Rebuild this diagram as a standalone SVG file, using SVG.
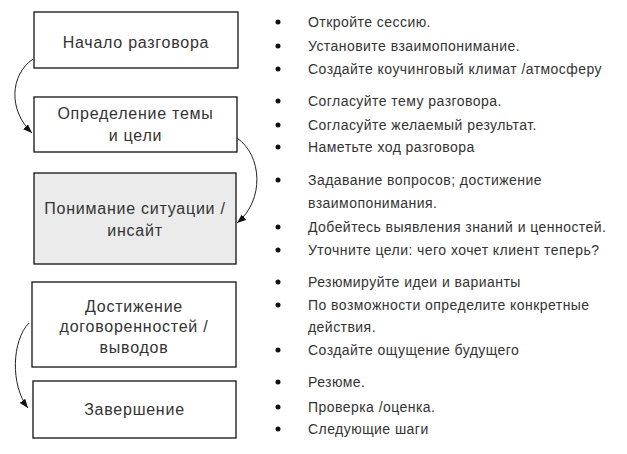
<svg xmlns="http://www.w3.org/2000/svg" width="627" height="454" viewBox="0 0 627 454">
<style>
.box{fill:#fff;stroke:#111;stroke-width:1.3}
.gray{fill:#ebebeb}
.bt{font-family:"Liberation Sans",Arial,sans-serif;font-size:16px;letter-spacing:0.75px;fill:#333;text-anchor:middle}
.li{font-family:"Liberation Sans",Arial,sans-serif;font-size:14px;letter-spacing:0.45px;fill:#333}
.dot{fill:#111}
.conn{fill:none;stroke:#222;stroke-width:1}
</style>
<defs>
<marker id="ah" markerUnits="userSpaceOnUse" markerWidth="10" markerHeight="8" refX="9" refY="3.5" orient="auto">
<path d="M0,0 L9,3.5 L0,7 z" fill="#111"/>
</marker>
</defs>
<rect width="627" height="454" fill="#fff"/>
<g id="node1">
<rect class="box" x="34" y="12" width="204" height="56"/>
<text class="bt" x="136" y="48">Начало разговора</text>
</g>
<g id="node2">
<rect class="box" x="34" y="97" width="203" height="55"/>
<text class="bt" x="135.5" y="119">Определение темы</text>
<text class="bt" x="135.5" y="141">и цели</text>
</g>
<g id="node3">
<rect class="box gray" x="34" y="173" width="202" height="91"/>
<text class="bt" x="135" y="214">Понимание ситуации /</text>
<text class="bt" x="135" y="236">инсайт</text>
</g>
<g id="node4">
<rect class="box" x="32" y="282" width="204" height="85"/>
<text class="bt" x="134" y="312">Достижение</text>
<text class="bt" x="134" y="332">договоренностей /</text>
<text class="bt" x="134" y="353">выводов</text>
</g>
<g id="node5">
<rect class="box" x="33" y="381" width="203" height="57"/>
<text class="bt" x="134.5" y="415">Завершение</text>
</g>
<g id="connectors">
<path class="conn" d="M33,59 C10,75 8,110 32,133" marker-end="url(#ah)"/>
<path class="conn" d="M237,138 C262,155 265,200 237,223" marker-end="url(#ah)"/>
<path class="conn" d="M29,323 C12,340 10,385 28,408" marker-end="url(#ah)"/>
</g>
<g id="list1">
<circle class="dot" cx="278" cy="22" r="2.5"/><text class="li" x="308" y="27">Откройте сессию.</text>
<circle class="dot" cx="278" cy="46" r="2.5"/><text class="li" x="308" y="51">Установите взаимопонимание.</text>
<circle class="dot" cx="278" cy="69" r="2.5"/><text class="li" x="308" y="74">Создайте коучинговый климат /атмосферу</text>
</g>
<g id="list2">
<circle class="dot" cx="278" cy="101" r="2.5"/><text class="li" x="308" y="106">Согласуйте тему разговора.</text>
<circle class="dot" cx="278" cy="125" r="2.5"/><text class="li" x="308" y="130">Согласуйте желаемый результат.</text>
<circle class="dot" cx="278" cy="147" r="2.5"/><text class="li" x="308" y="152">Наметьте ход разговора</text>
</g>
<g id="list3">
<circle class="dot" cx="278" cy="180" r="2.5"/><text class="li" x="308" y="185">Задавание вопросов; достижение</text>
<text class="li" x="308" y="208">взаимопонимания.</text>
<circle class="dot" cx="278" cy="227" r="2.5"/><text class="li" x="308" y="232">Добейтесь выявления знаний и ценностей.</text>
<circle class="dot" cx="278" cy="250" r="2.5"/><text class="li" x="308" y="255">Уточните цели: чего хочет клиент теперь?</text>
</g>
<g id="list4">
<circle class="dot" cx="278" cy="282" r="2.5"/><text class="li" x="308" y="287">Резюмируйте идеи и варианты</text>
<circle class="dot" cx="278" cy="305" r="2.5"/><text class="li" x="308" y="310">По возможности определите конкретные</text>
<text class="li" x="308" y="332">действия.</text>
<circle class="dot" cx="278" cy="350" r="2.5"/><text class="li" x="308" y="355">Создайте ощущение будущего</text>
</g>
<g id="list5">
<circle class="dot" cx="278" cy="382" r="2.5"/><text class="li" x="308" y="387">Резюме.</text>
<circle class="dot" cx="278" cy="407" r="2.5"/><text class="li" x="308" y="412">Проверка /оценка.</text>
<circle class="dot" cx="278" cy="429" r="2.5"/><text class="li" x="308" y="434">Следующие шаги</text>
</g>
</svg>
